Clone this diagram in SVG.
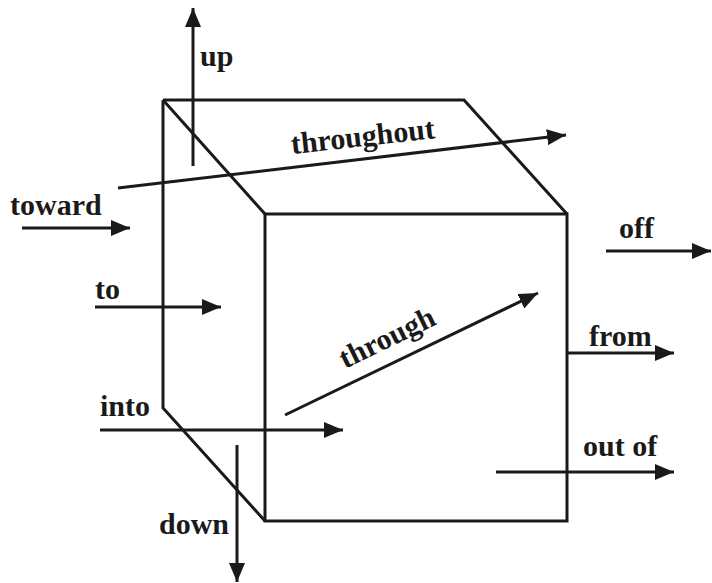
<svg xmlns="http://www.w3.org/2000/svg" width="712" height="583" viewBox="0 0 712 583">
<defs>
<marker id="ah" markerWidth="20" markerHeight="16" refX="19" refY="8" orient="auto" markerUnits="userSpaceOnUse">
<path d="M0,0 L19,8 L0,16 Z" fill="#1a1a1a"/>
</marker>
<style>
.edge{fill:none;stroke:#1a1a1a;stroke-width:3;stroke-linejoin:miter}
.arr{fill:none;stroke:#1a1a1a;stroke-width:3;marker-end:url(#ah)}
.lbl{font-family:"Liberation Serif","Times New Roman",serif;font-weight:bold;font-size:30px;fill:#1a1a1a}
</style>
</defs>
<rect width="712" height="583" fill="#ffffff"/>
<g id="cube">
<path class="edge" d="M265,214 L567,214 L567,521 L265,521 Z"/>
<path class="edge" d="M163,100 L464,100 L567,214"/>
<path class="edge" d="M163,100 L265,214"/>
<path class="edge" d="M163,100 L163,408 L265,521"/>
</g>
<g id="connectors">
<line class="arr" x1="193" y1="166" x2="193" y2="8"/>
<line class="arr" x1="118" y1="188" x2="566" y2="135"/>
<line class="arr" x1="22" y1="228" x2="130" y2="228"/>
<line class="arr" x1="95" y1="307" x2="221" y2="307"/>
<line class="arr" x1="100" y1="430" x2="343" y2="430"/>
<line class="arr" x1="285" y1="415" x2="538" y2="293"/>
<line class="arr" x1="606" y1="251" x2="711" y2="251"/>
<line class="arr" x1="567" y1="353" x2="674" y2="353"/>
<line class="arr" x1="496" y1="472" x2="674" y2="472"/>
<line class="arr" x1="237" y1="445" x2="237" y2="582"/>
</g>
<g id="labels">
<text class="lbl" x="200" y="66">up</text>
<text class="lbl" transform="translate(292,154) rotate(-6.3)">throughout</text>
<text class="lbl" x="10" y="215">toward</text>
<text class="lbl" x="95" y="299">to</text>
<text class="lbl" x="100" y="416">into</text>
<text class="lbl" transform="translate(345,369) rotate(-26)">through</text>
<text class="lbl" x="619" y="238">off</text>
<text class="lbl" x="589" y="346">from</text>
<text class="lbl" x="583" y="456">out of</text>
<text class="lbl" x="159" y="534">down</text>
</g>
</svg>
